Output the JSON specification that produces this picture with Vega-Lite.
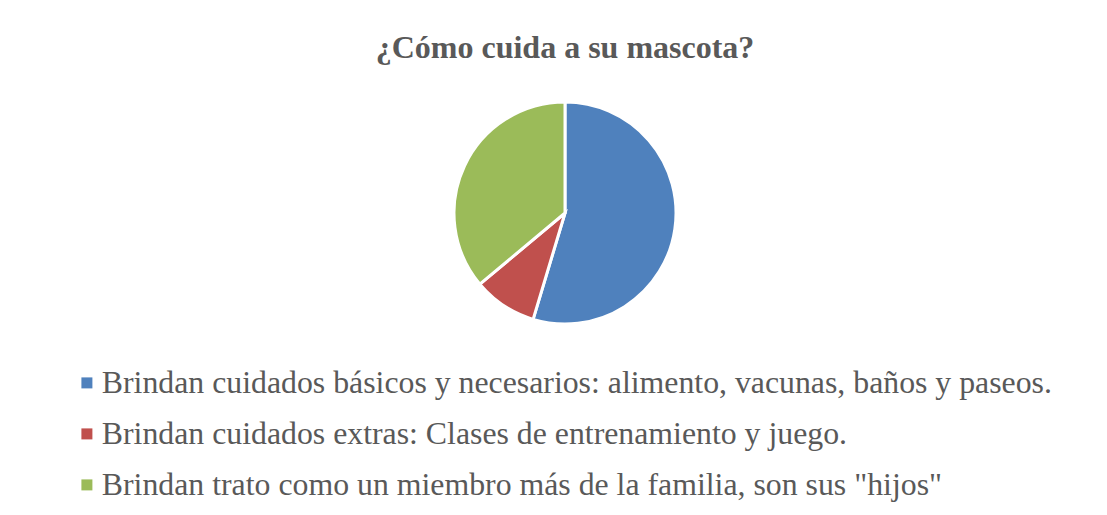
{
  "$schema": "https://vega.github.io/schema/vega-lite/v6.json",
  "autosize": {"type": "none"},
  "padding": {"left": 65, "top": 63, "right": 42, "bottom": 152},
  "width": 1000,
  "height": 300,
  "background": "white",
  "title": {
    "text": "¿Cómo cuida a su mascota?",
    "font": "Liberation Serif",
    "fontSize": 32,
    "fontWeight": "bold",
    "color": "#595959",
    "anchor": "middle",
    "offset": -2
  },
  "data": {
    "values": [
      {"categoria": "Brindan cuidados básicos y necesarios: alimento, vacunas, baños y paseos.", "n": 53},
      {"categoria": "Brindan cuidados extras: Clases de entrenamiento y juego.", "n": 9},
      {"categoria": "Brindan trato como un miembro más de la familia, son sus \"hijos\"", "n": 35}
    ]
  },
  "mark": {"type": "arc", "outerRadius": 111, "stroke": "white", "strokeWidth": 3},
  "encoding": {
    "theta": {"field": "n", "type": "quantitative", "stack": true},
    "color": {
      "field": "categoria",
      "type": "nominal",
      "scale": {"range": ["#4F81BD", "#C0504D", "#9BBB59"]},
      "legend": {
        "title": null,
        "orient": "none",
        "legendX": 6,
        "legendY": 304,
        "symbolType": "square",
        "symbolSize": 121,
        "symbolStrokeWidth": 0,
        "labelFont": "Liberation Serif",
        "labelFontSize": 31.8,
        "labelColor": "#595959",
        "labelLimit": 2000,
        "labelOffset": -1,
        "rowPadding": 18
      }
    }
  },
  "config": {"view": {"stroke": null}}
}
